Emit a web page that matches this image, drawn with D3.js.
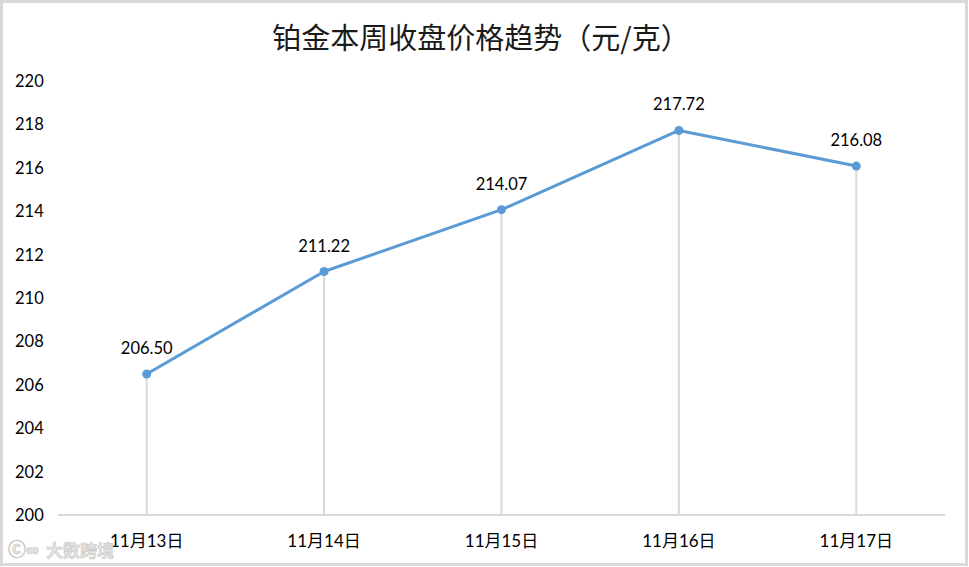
<!DOCTYPE html>
<html><head><meta charset="utf-8">
<script src="https://cdn.jsdelivr.net/npm/d3@7"></script>
<style>body{margin:0;background:#fff}svg{display:block}</style>
</head><body>
<svg id="c" width="969" height="567"></svg>
<script>
const categories = ["11月13日","11月14日","11月15日","11月16日","11月17日"];
const values = [206.50, 211.22, 214.07, 217.72, 216.08];
const yTicks = [200,202,204,206,208,210,212,214,216,218,220];
const title = "铂金本周收盘价格趋势（元/克）";

const svg = d3.select("#c");
const W = 969, H = 567;
const font = "Lato, 'Noto Sans CJK SC', sans-serif";
svg.append("rect").attr("x",1.5).attr("y",1.5).attr("width",W-4).attr("height",H-4)
  .attr("fill","#fff").attr("stroke","#d9d9d9").attr("stroke-width",3);

const x = d3.scaleBand().domain(categories).range([58,945]);
const y = d3.scaleLinear().domain([200,220]).range([515,81]);

svg.append("text").attr("x",481).attr("y",49).attr("text-anchor","middle")
  .attr("font-family","'Noto Sans CJK SC', sans-serif").attr("font-weight",400)
  .attr("font-size",29).attr("fill","#1a1a1a").text(title);

// y labels
svg.selectAll(".yl").data(yTicks).join("text")
  .attr("x",15).attr("y",d=>y(d)+6).attr("font-family",font).attr("font-size",16.5)
  .attr("fill","#000").text(d=>d);

// drop lines
svg.selectAll(".drop").data(values).join("line")
  .attr("x1",(d,i)=>x(categories[i])+x.bandwidth()/2).attr("x2",(d,i)=>x(categories[i])+x.bandwidth()/2)
  .attr("y1",d=>y(d)).attr("y2",y(200)).attr("stroke","#d9d9d9").attr("stroke-width",2);

// x axis line
svg.append("line").attr("x1",58).attr("x2",945).attr("y1",y(200)).attr("y2",y(200))
  .attr("stroke","#d9d9d9").attr("stroke-width",2);

svg.selectAll(".xl").data(categories).join("text")
  .attr("x",d=>x(d)+x.bandwidth()/2).attr("y",547).attr("text-anchor","middle")
  .attr("font-family",font).attr("font-size",17).attr("fill","#000").text(d=>d);

const pts = values.map((v,i)=>[x(categories[i])+x.bandwidth()/2, y(v)]);
svg.append("path").attr("d",d3.line()(pts)).attr("fill","none")
  .attr("stroke","#5b9bd5").attr("stroke-width",3).attr("stroke-linejoin","round");
svg.selectAll(".pt").data(pts).join("circle").attr("cx",d=>d[0]).attr("cy",d=>d[1])
  .attr("r",4.5).attr("fill","#5b9bd5");

svg.selectAll(".dl").data(values).join("text")
  .attr("x",(d,i)=>pts[i][0]).attr("y",(d,i)=>pts[i][1]-20).attr("text-anchor","middle")
  .attr("font-family",font).attr("font-size",16.5).attr("fill","#000").text(d=>d.toFixed(2));

// watermark
svg.append("text").attr("x",46).attr("y",557).attr("font-family","'Noto Sans CJK SC', sans-serif")
  .attr("font-weight",700).attr("font-size",17).attr("fill","#e6e6e6")
  .attr("stroke","#c8c8c8").attr("stroke-width",0.6).text("大数跨境");
svg.append("text").attr("x",8).attr("y",556).attr("font-family",font)
  .attr("font-weight",700).attr("font-size",18).attr("fill","#e6e6e6")
  .attr("stroke","#c8c8c8").attr("stroke-width",0.6).text("Ⓒ∞");
</script>
</body></html>
